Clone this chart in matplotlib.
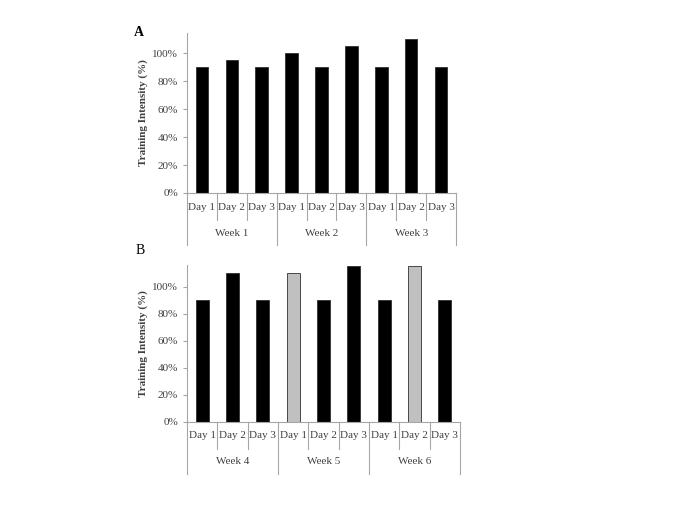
import matplotlib
matplotlib.use('Agg')
import matplotlib.pyplot as plt
import matplotlib.transforms as mtransforms
from matplotlib.ticker import PercentFormatter

# data
days = ['Day 1', 'Day 2', 'Day 3']
weeks_a = ['Week 1', 'Week 2', 'Week 3']
weeks_b = ['Week 4', 'Week 5', 'Week 6']
values_a = [90, 95, 90, 100, 90, 105, 90, 110, 90]
values_b = [90, 110, 90, 110, 90, 115, 90, 115, 90]
colors_b = ['black', 'black', 'black', '#c0c0c0', 'black', 'black', 'black', '#c0c0c0', 'black']

plt.rcParams['font.family'] = ['Liberation Serif', 'DejaVu Serif']
TXT = '#404040'
LINE = '#a6a6a6'


def panel(ax, values, colors, weeks, ytop):
    n = len(values)
    xs = list(range(n))
    ax.bar(xs, values, width=0.42, color=colors, edgecolor='#303030', linewidth=0.6)
    ax.set_xlim(-0.5, n - 0.5)
    ax.set_ylim(0, ytop)
    ax.set_yticks([0, 20, 40, 60, 80, 100])
    ax.yaxis.set_major_formatter(PercentFormatter(decimals=0))
    ax.tick_params(axis='y', labelsize=8, colors=LINE, labelcolor=TXT, length=3, width=0.8)
    ax.tick_params(axis='x', bottom=False, labelbottom=False)
    for s in ['top', 'right']:
        ax.spines[s].set_visible(False)
    ax.spines['left'].set_color(LINE)
    ax.spines['bottom'].set_color(LINE)
    ax.set_ylabel('Training Intensity (%)', fontsize=8, fontweight='bold', color=TXT, labelpad=3)

    # category table below the axis (pixel offsets -> axes fraction)
    tr = mtransforms.blended_transform_factory(ax.transData, ax.transAxes)
    hpx = ax.get_window_extent().height
    d_bot = -27 / hpx
    w_bot = -52 / hpx
    for i in range(n + 1):
        x = i - 0.5
        bot = w_bot if i % 3 == 0 else d_bot
        ax.plot([x, x], [0, bot], color=LINE, lw=0.8, transform=tr, clip_on=False)
    for i in range(n):
        ax.text(i, -14 / hpx, days[i % 3], transform=tr, ha='center', va='center',
                fontsize=8, color=TXT)
    for j, w in enumerate(weeks):
        ax.text(3 * j + 1, -40 / hpx, w, transform=tr, ha='center', va='center',
                fontsize=8, color=TXT)


fig = plt.figure(figsize=(6.85, 5.13), dpi=100)
ax_a = fig.add_axes([187 / 685, 1 - 193 / 513, (456 - 187) / 685, (193 - 33) / 513])
ax_b = fig.add_axes([187 / 685, 1 - 421.7 / 513, (460 - 187) / 685, (421.7 - 265) / 513])

panel(ax_a, values_a, 'black', weeks_a, 114.3)
panel(ax_b, values_b, colors_b, weeks_b, 116)

fig.text(134 / 685, 1 - 33 / 513, 'A', fontsize=10, fontweight='bold', ha='left', va='center')
fig.text(136 / 685, 1 - 250 / 513, 'B', fontsize=10, ha='left', va='center')

fig.savefig('out.png', dpi=100, facecolor='white')
